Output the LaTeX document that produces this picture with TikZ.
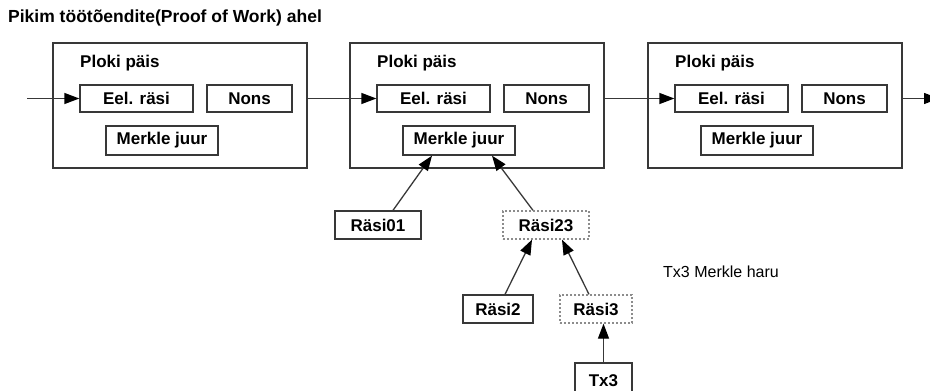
\documentclass[tikz,border=0pt]{standalone}
\usepackage{fontspec}
\setmainfont{Liberation Sans}
\usetikzlibrary{arrows.meta,calc}
\definecolor{ln}{HTML}{383838}
\definecolor{dt}{HTML}{8C8C8C}
\tikzset{
  blockbox/.style={draw=ln,line width=1.3pt,minimum width=254pt,minimum height=125pt,inner sep=0pt},
  fieldbox/.style={draw=ln,line width=1.3pt,minimum height=27pt,inner sep=0pt,font=\fontsize{17}{20}\selectfont\bfseries},
  hashbox/.style={fieldbox,minimum height=28pt},
  dotbox/.style={hashbox,draw=dt,dash pattern=on 2pt off 2pt},
  lbl/.style={inner sep=0pt,anchor=west,font=\fontsize{17}{20}\selectfont\bfseries},
  conn/.style={draw=ln,line width=1.3pt,-{Triangle[length=15pt,width=11pt,color=black]}}
}
\begin{document}
\begin{tikzpicture}[x=1pt,y=-1pt]
\useasboundingbox (0,0) rectangle (930,391);
\node[inner sep=0pt,anchor=west,font=\fontsize{17.5}{20}\selectfont\bfseries] (title) at (8,18) {Pikim töötõendite(Proof of Work) ahel};
\foreach \i/\x in {1/53,2/350,3/648}{
  \node[blockbox] (blk\i) at (\x+127,105.5) {};
  \node[lbl] (pl\i) at (\x+27,63) {Ploki päis};
  \node[fieldbox,minimum width=113pt] (eel\i) at (\x+83.5,98.5) {Eel. räsi};
  \node[fieldbox,minimum width=85pt] (nons\i) at (\x+196.5,98.5) {Nons};
  \node[fieldbox,minimum width=112pt,minimum height=29pt] (mer\i) at (\x+109,140.5) {Merkle juur};
}
\coordinate (start) at (27,98.5);
\coordinate (end) at (939,98.5);
\draw[conn] (start) -- (eel1.west);
\draw[conn] (blk1.east |- eel2.west) -- (eel2.west);
\draw[conn] (blk2.east |- eel3.west) -- (eel3.west);
\draw[conn] (blk3.east |- eel3.west) -- (end);

\node[hashbox,minimum width=86pt] (r01) at (378,225) {Räsi01};
\node[dotbox,minimum width=86pt] (r23) at (546,225) {Räsi23};
\node[hashbox,minimum width=70pt] (r2) at (498,309) {Räsi2};
\node[dotbox,minimum width=72pt] (r3) at (596,309) {Räsi3};
\node[hashbox,minimum width=57pt,minimum height=36pt] (tx3) at (603.5,381) {Tx3};
\node[inner sep=0pt,anchor=west,font=\fontsize{16}{19}\selectfont] (haru) at (663,272) {Tx3 Merkle haru};

\draw[conn] ([xshift=15pt]r01.north) -- ([xshift=-27pt]mer2.south);
\draw[conn] ([xshift=-13pt]r23.north) -- ([xshift=33pt]mer2.south);
\draw[conn] ([xshift=7pt]r2.north) -- ([xshift=-14pt]r23.south);
\draw[conn] ([xshift=-7pt]r3.north) -- ([xshift=16pt]r23.south);
\draw[conn] (tx3.north) -- (tx3.north |- r3.south);
\end{tikzpicture}
\end{document}
